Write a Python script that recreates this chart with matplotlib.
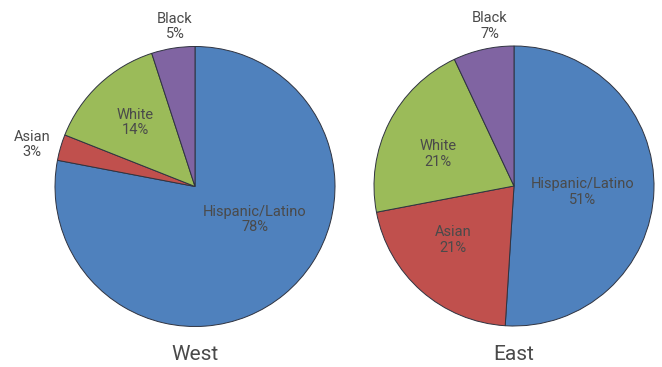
import matplotlib.pyplot as plt

# Дані
groups = ['Hispanic/Latino', 'Asian', 'White', 'Black']
west = [78, 3, 14, 5]
east = [51, 21, 21, 7]
colors = ['#4F81BD', '#C0504D', '#9BBB59', '#8064A2']

# Зсуви підписів від центру (в пікселях, вниз - додатні)
west_offsets = [(60, 33), (-163, -42), (-60, -64), (-20, -160)]
east_offsets = [(69, 6), (-61, 54), (-76, -32), (-24, -160)]

plt.rcParams['font.family'] = ['Roboto', 'DejaVu Sans']

fig = plt.figure(figsize=(6.62, 3.67), dpi=100)
ax = fig.add_axes([0, 0, 1, 1])

H = 367
charts = [('West', west, west_offsets, (195, H - 186.5)),
          ('East', east, east_offsets, (514, H - 186))]

for title, vals, offs, c in charts:
    ax.pie(vals, colors=colors, startangle=90, counterclock=False,
           center=c, radius=140,
           wedgeprops=dict(edgecolor='#2f3340', linewidth=0.7))
    for name, v, (dx, dy) in zip(groups, vals, offs):
        ax.text(c[0] + dx, c[1] - dy, f'{name}\n{v}%', ha='center', va='center',
                fontsize=10.5, color='#4a4a4a', linespacing=1.12)
    ax.text(c[0], H - 355, title, ha='center', va='center', fontsize=15,
            color='#4a4a4a')

ax.set_xlim(0, 662)
ax.set_ylim(0, H)
ax.set_aspect('equal')
ax.axis('off')

plt.savefig('out.png', dpi=100)
